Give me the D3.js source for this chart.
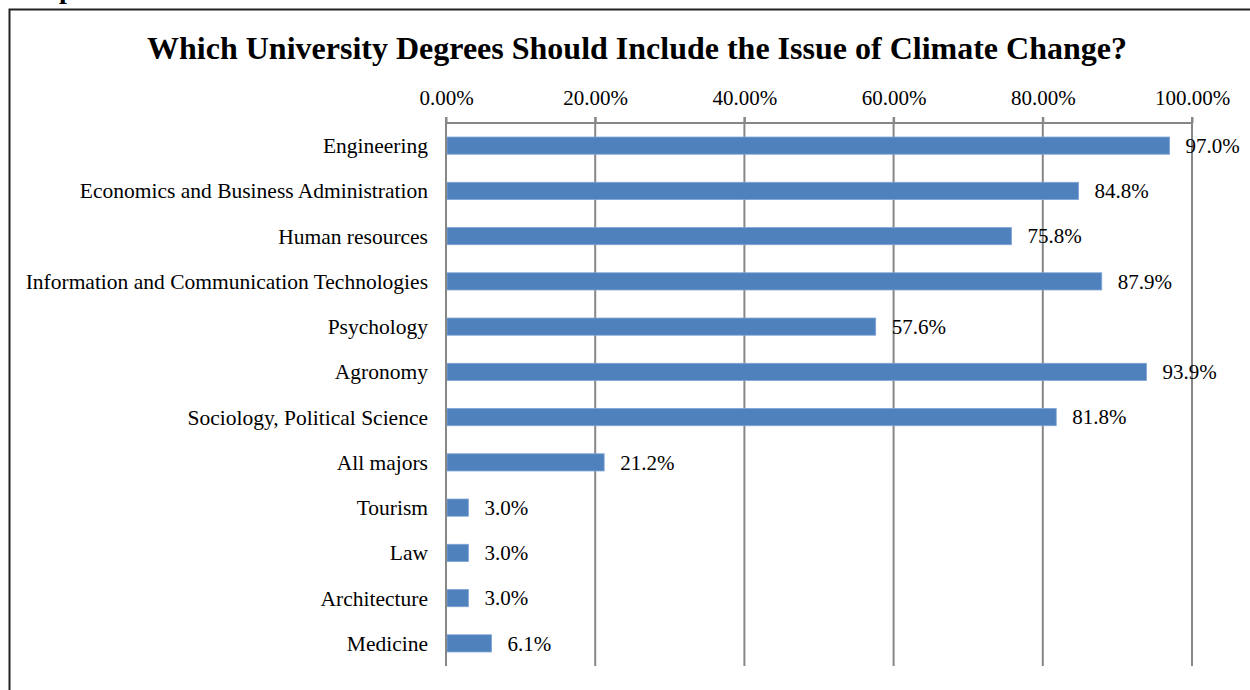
<!DOCTYPE html>
<html>
<head>
<meta charset="utf-8">
<script src="https://cdn.jsdelivr.net/npm/d3@7"></script>
<style>
  body { margin: 0; background: #fff; }
  svg { display: block; }
</style>
</head>
<body>
<script>
let categories = ["Engineering", "Economics and Business Administration", "Human resources",
  "Information and Communication Technologies", "Psychology", "Agronomy",
  "Sociology, Political Science", "All majors", "Tourism", "Law", "Architecture", "Medicine"];
let values = [97.0, 84.8, 75.8, 87.9, 57.6, 93.9, 81.8, 21.2, 3.0, 3.0, 3.0, 6.1];
let tickValues = [0, 20, 40, 60, 80, 100];
let title = "Which University Degrees Should Include the Issue of Climate Change?";

let w = 1250;
let h = 690;
let font = "'Liberation Serif', 'Times New Roman', serif";
let fs = "21px";

let svg = d3.select("body").append("svg").attr("width", w).attr("height", h);

// frame of the chart box (runs off the page right and bottom)
svg.append("rect")
  .attr("x", 9.5).attr("y", 9.5)
  .attr("width", w + 20).attr("height", h + 20)
  .attr("fill", "none").attr("stroke", "#222").attr("stroke-width", 2);

// tail of a heading cut off above the box
svg.append("text")
  .attr("x", 59).attr("y", -2)
  .attr("font-family", font).attr("font-weight", "bold").attr("font-size", "28px")
  .text("p");

svg.append("text")
  .attr("x", 637).attr("y", 59)
  .attr("text-anchor", "middle")
  .attr("font-family", font).attr("font-weight", "bold").attr("font-size", "32px")
  .text(title);

let xScale = d3.scaleLinear().domain([0, 100]).range([446, 1192]);
let yScale = d3.scaleBand().domain(categories).range([123, 666]).paddingInner(0.62).paddingOuter(0.31);

const gridColor = "#878787";

// gridlines
svg.append("g")
  .selectAll("line")
  .data(tickValues)
  .enter()
  .append("line")
  .attr("x1", (d) => xScale(d)).attr("x2", (d) => xScale(d))
  .attr("y1", 117).attr("y2", 666)
  .attr("stroke", gridColor).attr("stroke-width", 2);

// top axis
const xAxis = d3.axisTop(xScale)
  .tickValues(tickValues)
  .tickSize(6)
  .tickFormat((d) => d.toFixed(2) + "%");

let ax = svg.append("g")
  .attr("transform", "translate(0,123)")
  .call(xAxis);
ax.select(".domain").attr("stroke", gridColor).attr("stroke-width", 2).attr("d", "M446,0H1192");
ax.selectAll(".tick line").attr("stroke", gridColor).attr("stroke-width", 2);
ax.selectAll(".tick text")
  .attr("font-family", font).attr("font-size", fs).attr("fill", "#000")
  .attr("y", -18);

// bars
svg.append("g")
  .selectAll("rect")
  .data(values)
  .enter()
  .append("rect")
  .attr("x", xScale(0) + 1)
  .attr("y", (d, i) => yScale(categories[i]))
  .attr("width", (d) => xScale(d) - xScale(0) - 1)
  .attr("height", yScale.bandwidth())
  .attr("fill", "#4F81BD")
  .attr("stroke", "#7FA4D6").attr("stroke-width", 0.8);

// left axis line
svg.append("line")
  .attr("x1", 446).attr("x2", 446).attr("y1", 117).attr("y2", 666)
  .attr("stroke", gridColor).attr("stroke-width", 2);

// category labels
svg.append("g")
  .selectAll("text")
  .data(categories)
  .enter()
  .append("text")
  .attr("x", 428)
  .attr("y", (d) => yScale(d) + yScale.bandwidth() / 2)
  .attr("dy", "0.35em")
  .attr("text-anchor", "end")
  .attr("font-family", font).attr("font-size", "21.5px")
  .text((d) => d);

// value labels
svg.append("g")
  .selectAll("text")
  .data(values)
  .enter()
  .append("text")
  .attr("x", (d) => xScale(d) + 16)
  .attr("y", (d, i) => yScale(categories[i]) + yScale.bandwidth() / 2)
  .attr("dy", "0.35em")
  .attr("font-family", font).attr("font-size", fs)
  .text((d) => d.toFixed(1) + "%");
</script>
</body>
</html>
